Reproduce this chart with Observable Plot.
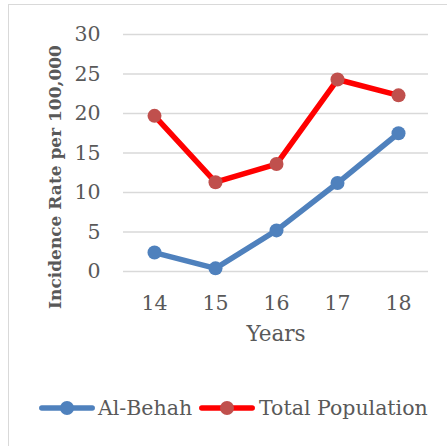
<!DOCTYPE html>
<html>
<head>
<meta charset="utf-8">
<script src="https://cdn.jsdelivr.net/npm/d3@7"></script>
<script src="https://cdn.jsdelivr.net/npm/@observablehq/plot@0.6"></script>
<style>
  html, body { margin: 0; padding: 0; background: #fff; }
  #wrap { position: relative; width: 447px; height: 446px; overflow: hidden; }
  #border { position: absolute; left: 8px; top: 4px; width: 480px; height: 480px; border: 1.5px solid #d9d9d9; box-sizing: border-box; }
  #chart { position: absolute; left: 0; top: 0; }
  #legend { position: absolute; left: 0; top: 394px; width: 447px; height: 28px; font-family: "DejaVu Serif"; font-size: 20.5px; color: #595959; }
  .item { position: absolute; top: 0; height: 28px; display: flex; align-items: center; white-space: nowrap; }
</style>
</head>
<body>
<div id="wrap">
  <div id="border"></div>
  <div id="chart"></div>
  <div id="legend"></div>
</div>
<script>
const years = ["14", "15", "16", "17", "18"];
const alBehah = [2.4, 0.4, 5.2, 11.2, 17.5];
const totalPopulation = [19.7, 11.3, 13.6, 24.3, 22.3];
const yTicks = [0, 5, 10, 15, 20, 25, 30];
const seriesNames = ["Al-Behah", "Total Population"];
const lineColors = ["#4F81BD", "#FF0000"];
const markerColors = ["#4F81BD", "#C0504D"];

const data = [];
years.forEach((yr, i) => data.push({year: yr, value: alBehah[i], series: seriesNames[0]}));
years.forEach((yr, i) => data.push({year: yr, value: totalPopulation[i], series: seriesNames[1]}));

const plot = Plot.plot({
  width: 447,
  height: 385,
  marginTop: 34,
  marginBottom: 114,
  marginLeft: 123,
  marginRight: 19,
  style: {fontFamily: "DejaVu Serif", fontSize: "20px", color: "#595959", background: "transparent", overflow: "visible"},
  x: {type: "point", domain: years, padding: 0.5},
  y: {domain: [0, 30]},
  marks: [
    Plot.gridY(yTicks, {stroke: "#d9d9d9", strokeOpacity: 1, strokeWidth: 1.5}),
    Plot.axisY(yTicks, {tickSize: 0, tickPadding: 23, label: null, fontSize: 20.5}),
    Plot.axisX({tickSize: 0, tickPadding: 24, label: null, fontSize: 20.5}),
    Plot.text(["Years"], {frameAnchor: "bottom", dy: 69, fontSize: 21.5, fill: "#595959"}),
    Plot.text(["Incidence Rate per 100,000"], {frameAnchor: "left", textAnchor: "middle", lineAnchor: "middle", dx: -68, dy: 24, rotate: -90, fontSize: 17, fontWeight: "bold", fill: "#595959"}),
    Plot.line(data, {x: "year", y: "value", z: "series", stroke: d => d.series === seriesNames[0] ? lineColors[0] : lineColors[1], strokeWidth: 5.5, strokeLinejoin: "round", strokeLinecap: "round"}),
    Plot.dot(data, {x: "year", y: "value", r: 7, fill: d => d.series === seriesNames[0] ? markerColors[0] : markerColors[1], stroke: "none"})
  ]
});
document.getElementById("chart").appendChild(plot);

const legend = document.getElementById("legend");
const positions = [{sw: 39, tx: 98}, {sw: 199, tx: 259}];
seriesNames.forEach((name, i) => {
  const sw = document.createElement("div");
  sw.className = "item";
  sw.style.left = positions[i].sw + "px";
  sw.innerHTML = `<svg width="56" height="28"><line x1="2.8" x2="53.2" y1="14" y2="14" stroke="${lineColors[i]}" stroke-width="5.5" stroke-linecap="round"/><circle cx="28" cy="14" r="7" fill="${markerColors[i]}"/></svg>`;
  legend.appendChild(sw);
  const tx = document.createElement("div");
  tx.className = "item";
  tx.style.left = positions[i].tx + "px";
  tx.textContent = name;
  legend.appendChild(tx);
});
</script>
</body>
</html>
